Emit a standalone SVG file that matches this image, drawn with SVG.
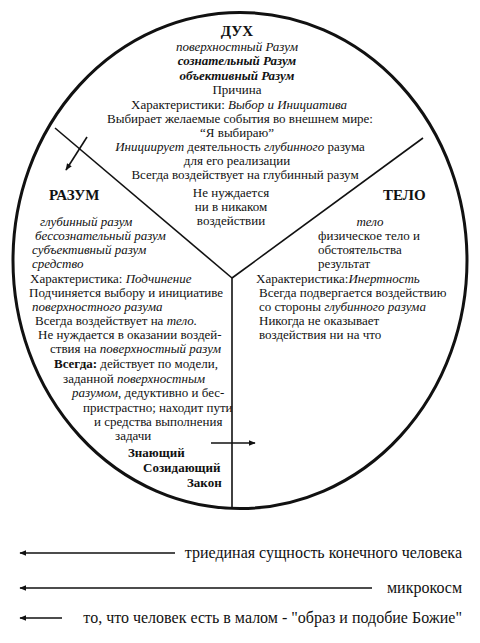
<svg xmlns="http://www.w3.org/2000/svg" width="480" height="643" viewBox="0 0 480 643">
<style>
text{font-family:"Liberation Serif","Times New Roman",serif;font-size:13px;fill:#111}
.c{text-anchor:middle}
.i{font-style:italic}
.b{font-weight:bold}
.h{font-weight:bold;font-size:15px}
.f{font-size:16px}
.r{text-anchor:end}
.ln{stroke:#111;stroke-width:1.6;fill:none}
.lg{stroke:#111;stroke-width:1.3;fill:none}
</style>
<defs>
<marker id="ah" viewBox="0 0 10 10" refX="9" refY="5" markerWidth="7" markerHeight="7" orient="auto-start-reverse" markerUnits="userSpaceOnUse"><path d="M0,1 L10,5 L0,9 Z" fill="#111"/></marker>
</defs>
<g id="frame">
<ellipse cx="240" cy="260.5" rx="227" ry="248" fill="#fff" stroke="#111" stroke-width="3"/>
</g>
<g id="connectors">
<line class="ln" x1="55" y1="128" x2="232" y2="278"/>
<line class="ln" x1="423" y1="138" x2="232" y2="278"/>
<line class="ln" x1="232" y1="278" x2="232" y2="509"/>
<line class="ln" x1="87" y1="137" x2="66" y2="170" marker-end="url(#ah)"/>
<line class="ln" x1="211" y1="443" x2="255" y2="443" marker-end="url(#ah)"/>
<line class="lg" x1="175" y1="553" x2="20" y2="553" marker-end="url(#ah)"/>
<line class="lg" x1="372" y1="588" x2="20" y2="588" marker-end="url(#ah)"/>
<line class="lg" x1="62" y1="618" x2="20" y2="618" marker-end="url(#ah)"/>
</g>
<g id="spirit">
<text class="c h" x="237" y="36">ДУХ</text>
<text class="c i" x="237" y="51">поверхностный Разум</text>
<text class="c i b" x="237" y="65">сознательный Разум</text>
<text class="c i b" x="237" y="80">объективный Разум</text>
<text class="c" x="237" y="94">Причина</text>
<text class="c" x="239" y="109">Характеристики: <tspan class="i">Выбор и Инициатива</tspan></text>
<text class="c" x="240" y="123">Выбирает желаемые события во внешнем мире:</text>
<text class="c" x="237" y="137">“Я выбираю”</text>
<text class="c" x="240" y="151"><tspan class="i">Инициирует</tspan> деятельность <tspan class="i">глубинного</tspan> разума</text>
<text class="c" x="237" y="165">для его реализации</text>
<text class="c" x="245" y="179">Всегда воздействует на глубинный разум</text>
<text class="c" x="231" y="197">Не нуждается</text>
<text class="c" x="231" y="211">ни в никаком</text>
<text class="c" x="231" y="225">воздействии</text>
</g>
<g id="mind">
<text class="h" x="49" y="200">РАЗУМ</text>
<text class="i" x="40" y="226">глубинный разум</text>
<text class="i" x="35" y="240">бессознательный разум</text>
<text class="i" x="32" y="254">субъективный разум</text>
<text class="i" x="32" y="268">средство</text>
<text x="30" y="283">Характеристика: <tspan class="i">Подчинение</tspan></text>
<text x="29" y="297">Подчиняется выбору и инициативе</text>
<text class="i" x="32" y="311">поверхностного разума</text>
<text x="35" y="325">Всегда воздействует на <tspan class="i">тело.</tspan></text>
<text x="38" y="339">Не нуждается в оказании воздей-</text>
<text x="50" y="353">ствия на <tspan class="i">поверхностный разум</tspan></text>
<text x="54" y="368"><tspan class="b">Всегда:</tspan> действует по модели,</text>
<text x="63" y="383">заданной <tspan class="i">поверхностным</tspan></text>
<text x="72" y="397"><tspan class="i">разумом</tspan>, дедуктивно и бес-</text>
<text x="83" y="412">пристрастно; находит пути</text>
<text x="94" y="426">и средства выполнения</text>
<text x="115" y="440">задачи</text>
<text class="b" x="128" y="457">Знающий</text>
<text class="b" x="143" y="472">Созидающий</text>
<text class="b" x="187" y="487">Закон</text>
</g>
<g id="body">
<text class="h" x="383" y="200">ТЕЛО</text>
<text class="c i" x="370" y="226">тело</text>
<text x="318" y="240">физическое тело и</text>
<text x="318" y="254">обстоятельства</text>
<text x="318" y="268">результат</text>
<text x="256" y="283">Характеристика:<tspan class="i">Инертность</tspan></text>
<text x="259" y="297">Всегда подвергается воздействию</text>
<text x="259" y="311">со стороны <tspan class="i">глубинного разума</tspan></text>
<text x="259" y="325">Никогда не оказывает</text>
<text x="259" y="339">воздействия ни на что</text>
</g>
<g id="legend">
<text class="f r" x="462" y="558">триединая сущность конечного человека</text>
<text class="f r" x="462" y="593">микрокосм</text>
<text class="f r" x="462" y="623">то, что человек есть в малом - "образ и подобие Божие"</text>
</g>
</svg>
